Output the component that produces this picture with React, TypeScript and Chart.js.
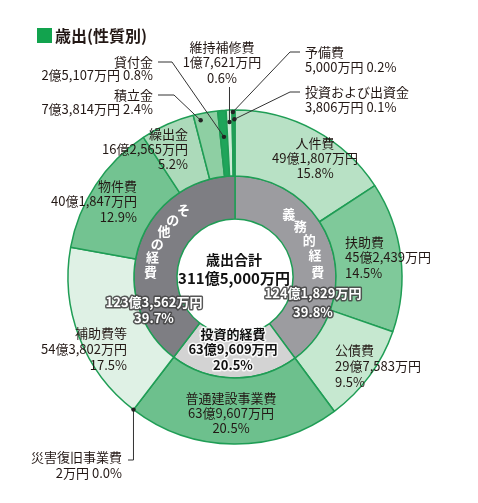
import React, { useEffect, useRef } from "react";
import { Chart, registerables } from "chart.js";

Chart.register(...registerables);

// ---------- data ----------
const TITLE = "歳出(性質別)";
const TOTAL_LABEL = "歳出合計";
const TOTAL_AMOUNT = "311億5,000万円";

const groupNames = ["義務的経費", "投資的経費", "その他の経費"];
const groupValues = [1241829, 639609, 1233562]; // 万円
const groupAmounts = ["124億1,829万円", "63億9,609万円", "123億3,562万円"];
const groupPercents = ["39.8%", "20.5%", "39.7%"];

const itemNames = [
  "人件費", "扶助費", "公債費", "普通建設事業費", "災害復旧事業費", "補助費等",
  "物件費", "繰出金", "積立金", "貸付金", "維持補修費", "予備費", "投資および出資金",
];
const itemValues = [491807, 452439, 297583, 639607, 2, 543802, 401847, 162565, 73814, 25107, 17621, 5000, 3806]; // 万円
const itemAmounts = [
  "49億1,807万円", "45億2,439万円", "29億7,583万円", "63億9,607万円", "2万円", "54億3,802万円",
  "40億1,847万円", "16億2,565万円", "7億3,814万円", "2億5,107万円", "1億7,621万円", "5,000万円", "3,806万円",
];
const itemPercents = ["15.8%", "14.5%", "9.5%", "20.5%", "0.0%", "17.5%", "12.9%", "5.2%", "2.4%", "0.8%", "0.6%", "0.2%", "0.1%"];

// ---------- styles ----------
const FONT = '"Noto Sans CJK JP", "Noto Sans", sans-serif';
const BORDER = "#1f9d55";
const itemColors = [
  "#b8e1c5", "#7fc99a", "#c6e8d0", "#6dc08d", "#6dc08d", "#dff1e5",
  "#73c391", "#acdaba", "#8ecfa3", "#1fa55a", "#cdebd6", "#1fa55a", "#cdebd6",
];
const groupColors = ["#9c9ca0", "#d3d3d3", "#7e7e83"];
const TEXT = "#231815";

// label layout: offsets from chart centre
type Pt = { dx: number | null; dy: number };
type ItemLayout = {
  dx: number; dy: number; align: CanvasTextAlign; lines: 2 | 3; lh: number;
  leader?: { aFrac: number; rFrac: number; path: Pt[] };
};
const itemLayout: ItemLayout[] = [
  { dx: 80, dy: -134, align: "center", lines: 3, lh: 15 },
  { dx: 110, dy: -35, align: "left", lines: 3, lh: 15.5 },
  { dx: 100, dy: 73, align: "left", lines: 3, lh: 16 },
  { dx: -4, dy: 121, align: "center", lines: 3, lh: 15 },
  { dx: -113, dy: 180, align: "right", lines: 2, lh: 16, leader: { aFrac: 0.5, rFrac: 1, path: [{ dx: -107, dy: 183 }, { dx: null, dy: 183 }] } },
  { dx: -108, dy: 56, align: "right", lines: 3, lh: 16 },
  { dx: -98, dy: -91, align: "right", lines: 3, lh: 15.5 },
  { dx: -47, dy: -143, align: "right", lines: 3, lh: 15 },
  { dx: -82, dy: -182, align: "right", lines: 2, lh: 14, leader: { aFrac: 0.25, rFrac: 0.9, path: [{ dx: -77, dy: -182 }, { dx: -61, dy: -182 }] } },
  { dx: -82, dy: -215, align: "right", lines: 2, lh: 13.5, leader: { aFrac: 0.5, rFrac: 0.6, path: [{ dx: -77, dy: -215 }, { dx: -63, dy: -215 }] } },
  { dx: -13, dy: -230, align: "center", lines: 3, lh: 15.5, leader: { aFrac: 0.5, rFrac: 0.82, path: [{ dx: null, dy: -190 }] } },
  { dx: 70, dy: -225, align: "left", lines: 2, lh: 15, leader: { aFrac: 0.5, rFrac: 0.97, path: [{ dx: 65, dy: -225 }, { dx: 55, dy: -225 }] } },
  { dx: 70, dy: -185, align: "left", lines: 2, lh: 15, leader: { aFrac: 0.5, rFrac: 0.86, path: [{ dx: 65, dy: -185 }, { dx: 55, dy: -185 }] } },
];

// vertical text along the inner ring (degrees clockwise from top)
const ringText = [
  { group: 0, start: 40.5, step: 11.5, rFrac: 0.58 },
  { group: 2, start: -37.5, step: -9.8, rFrac: 0.62 },
];
const groupValueLayout = [
  { dx: 78, dy: 16, lh: 19, dark: false },
  { dx: -2, dy: 57, lh: 15.5, dark: true },
  { dx: -81, dy: 25, lh: 16, dark: false },
];

const labelPlugin = {
  id: "customLabels",
  afterDraw(chart: any) {
    const ctx: CanvasRenderingContext2D = chart.ctx;
    const outer = chart.getDatasetMeta(0).data as any[];
    const inner = chart.getDatasetMeta(1).data as any[];
    if (!outer.length) return;
    const cx = outer[0].x;
    const cy = outer[0].y;
    ctx.save();
    ctx.textBaseline = "middle";

    // title
    ctx.fillStyle = "#12a34e";
    ctx.fillRect(37, 28, 15, 15);
    ctx.fillStyle = TEXT;
    ctx.font = `bold 16px ${FONT}`;
    ctx.textAlign = "left";
    ctx.fillText(TITLE, 55, 36);

    // leaders
    itemLayout.forEach((lay, i) => {
      if (!lay.leader) return;
      const arc = outer[i];
      const a = arc.startAngle + (arc.endAngle - arc.startAngle) * lay.leader.aFrac;
      const r = arc.innerRadius + (arc.outerRadius - arc.innerRadius) * lay.leader.rFrac;
      const px = cx + r * Math.cos(a);
      const py = cy + r * Math.sin(a);
      ctx.strokeStyle = "#333";
      ctx.lineWidth = 1;
      ctx.beginPath();
      lay.leader.path.forEach((p, k) => {
        const x = p.dx === null ? px : cx + p.dx;
        const y = cy + p.dy;
        if (k === 0) ctx.moveTo(x, y);
        else ctx.lineTo(x, y);
      });
      ctx.lineTo(px, py);
      ctx.stroke();
      ctx.fillStyle = "#222";
      ctx.beginPath();
      ctx.arc(px, py, 2.2, 0, Math.PI * 2);
      ctx.fill();
    });

    // outer labels
    ctx.font = `13px ${FONT}`;
    ctx.fillStyle = TEXT;
    itemLayout.forEach((lay, i) => {
      const lines = lay.lines === 3
        ? [itemNames[i], itemAmounts[i], itemPercents[i]]
        : [itemNames[i], `${itemAmounts[i]} ${itemPercents[i]}`];
      ctx.textAlign = lay.align;
      lines.forEach((t, k) => ctx.fillText(t, cx + lay.dx, cy + lay.dy + k * lay.lh));
    });

    // ring text
    ctx.font = `bold 13px ${FONT}`;
    ctx.textAlign = "center";
    ringText.forEach((rt) => {
      const arc = inner[rt.group];
      const r = arc.innerRadius + (arc.outerRadius - arc.innerRadius) * rt.rFrac;
      const chars = Array.from(groupNames[rt.group]);
      chars.forEach((ch, k) => {
        const deg = rt.start + rt.step * k;
        const a = (deg * Math.PI) / 180 - Math.PI / 2;
        ctx.fillStyle = "#ffffff";
        ctx.fillText(ch, cx + r * Math.cos(a), cy + r * Math.sin(a));
      });
    });

    // group values
    groupValueLayout.forEach((g, i) => {
      const lines = g.dark ? [groupNames[i], groupAmounts[i], groupPercents[i]] : [groupAmounts[i], groupPercents[i]];
      ctx.font = `bold 13px ${FONT}`;
      ctx.textAlign = "center";
      ctx.lineJoin = "round";
      lines.forEach((t, k) => {
        const x = cx + g.dx;
        const y = cy + g.dy + k * g.lh;
        if (g.dark) {
          ctx.strokeStyle = "rgba(255,255,255,0.85)";
          ctx.lineWidth = 3;
          ctx.strokeText(t, x, y);
          ctx.fillStyle = "#111";
          ctx.fillText(t, x, y);
        } else {
          ctx.strokeStyle = "rgba(70,70,70,0.9)";
          ctx.lineWidth = 3;
          ctx.strokeText(t, x, y);
          ctx.fillStyle = "#fff";
          ctx.fillText(t, x, y);
        }
      });
    });

    // centre
    ctx.fillStyle = "#111";
    ctx.font = `bold 14px ${FONT}`;
    ctx.textAlign = "center";
    ctx.fillText(TOTAL_LABEL, cx - 1, cy - 17);
    ctx.font = `bold 15px ${FONT}`;
    ctx.fillText(TOTAL_AMOUNT, cx - 1, cy + 1);
    ctx.restore();
  },
};

export default function App() {
  const ref = useRef<HTMLCanvasElement | null>(null);
  useEffect(() => {
    if (!ref.current) return;
    const chart = new Chart(ref.current, {
      type: "doughnut",
      data: {
        labels: itemNames,
        datasets: [
          {
            data: itemValues,
            backgroundColor: itemColors,
            borderColor: BORDER,
            borderWidth: 1.5,
            weight: 66,
          } as any,
          {
            data: groupValues,
            backgroundColor: groupColors,
            borderColor: BORDER,
            borderWidth: 1.5,
            weight: 43,
          } as any,
        ],
      },
      options: {
        responsive: false,
        animation: false,
        devicePixelRatio: 1,
        cutout: 58,
        layout: { padding: { left: 67.25, right: 75.25, top: 109.25, bottom: 58.25 } },
        plugins: { legend: { display: false }, tooltip: { enabled: false }, title: { display: false } },
        events: [],
      } as any,
      plugins: [labelPlugin],
    });
    return () => chart.destroy();
  }, []);
  return (
    <div style={{ position: "absolute", left: 0, top: 0, width: 478, height: 503, background: "#fff" }}>
      <canvas ref={ref} width={478} height={503} style={{ display: "block" }} />
    </div>
  );
}
